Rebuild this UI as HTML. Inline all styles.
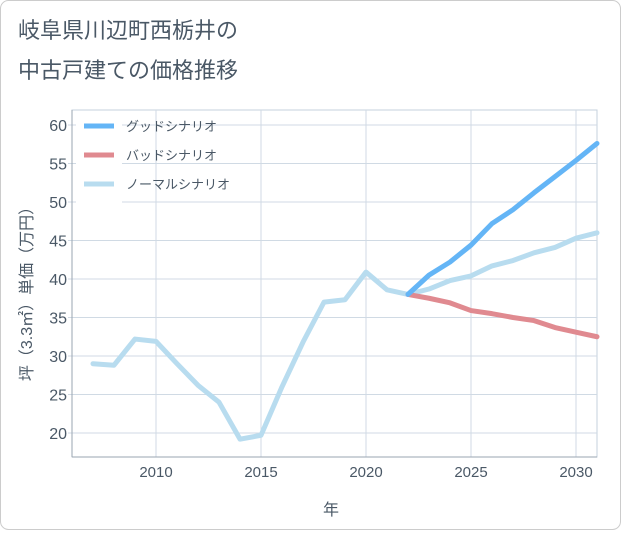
<!DOCTYPE html>
<html><head><meta charset="utf-8"><style>
body{margin:0;background:#fff;}
#wrap{position:relative;width:621px;height:530px;}
svg text{font-family:"Liberation Sans","Noto Sans CJK JP",sans-serif;}
</style></head><body>
<div id="wrap">
<svg id="chart" width="621" height="530">
<rect x="0.5" y="0.5" width="620" height="529" rx="8" fill="#fff" stroke="#ccc"/>
<text x="18" y="38" font-size="22" fill="#4a5866">岐阜県川辺町西栃井の</text>
<text x="18" y="78" font-size="22" fill="#4a5866">中古戸建ての価格推移</text>
<g id="grid"></g><g id="series"></g><g id="legend"></g>
<text x="331" y="515" font-size="16" fill="#4a5866" text-anchor="middle">年</text>
<text transform="translate(32,290) rotate(-90)" font-size="16" fill="#4a5866" text-anchor="middle">坪（3.3㎡）単価（万円）</text>
</svg></div>
<script>
const years=[2007,2008,2009,2010,2011,2012,2013,2014,2015,2016,2017,2018,2019,2020,2021,2022,2023,2024,2025,2026,2027,2028,2029,2030,2031];
const normalVals=[29,28.8,32.2,31.9,29,26.2,24,19.2,19.7,26,31.8,37,37.3,40.9,38.6,38,38.7,39.8,40.4,41.7,42.4,43.4,44.1,45.3,46];
const goodYears=[2022,2023,2024,2025,2026,2027,2028,2029,2030,2031];
const goodVals=[38,40.5,42.2,44.4,47.2,49,51.2,53.3,55.4,57.6];
const badVals=[38,37.5,36.9,35.9,35.5,35,34.6,33.7,33.1,32.5];
const xTicks=[2010,2015,2020,2025,2030];
const yTicks=[20,25,30,35,40,45,50,55,60];
const legendLabels=["グッドシナリオ","バッドシナリオ","ノーマルシナリオ"];
const legendColors=["#64b5f6","#e08a90","#b8dcef"];
const L=72,R=597,T=110,B=457;
const X=y=>156+(y-2010)*21;
const Y=v=>433-(v-20)*7.7;
const NS="http://www.w3.org/2000/svg";
function mk(tag,attrs,parent){const e=document.createElementNS(NS,tag);for(const k in attrs)e.setAttribute(k,attrs[k]);parent.appendChild(e);return e;}
const g=document.getElementById('grid');
mk('rect',{x:L,y:T,width:R-L,height:B-T,fill:'#fff',stroke:'#c5d0dc'},g);
for(const t of xTicks){
 const l=mk('line',{x1:X(t),x2:X(t),y1:T,y2:B,stroke:'#d0dae4'},g);
 
 
 const tx=mk('text',{x:X(t),y:B+20,'font-size':15,fill:'#4a5866','text-anchor':'middle'},g);tx.textContent=t;
 
 
}
for(const t of yTicks){
 const l=mk('line',{x1:L-4,x2:R,y1:Y(t),y2:Y(t),stroke:'#d0dae4'},g);
 
 
 const tx=mk('text',{x:67,y:Y(t)+6,'font-size':16,fill:'#4a5866','text-anchor':'end'},g);tx.textContent=t;
 
 
}
mk('line',{x1:L,x2:L,y1:T,y2:B,stroke:'#9aa6b2'},g);
mk('line',{x1:L,x2:R,y1:B,y2:B,stroke:'#9aa6b2'},g);
const s=document.getElementById('series');
function line(xs,vs,color,name){
 const p=mk('polyline',{points:xs.map((x,i)=>X(x)+','+Y(vs[i])).join(' '),fill:'none',stroke:color,'stroke-width':5,'stroke-linejoin':'round','stroke-linecap':'round'},s);
 
 
}
line(years,normalVals,legendColors[2],'normal-scenario-line');
line(goodYears,badVals,legendColors[1],'bad-scenario-line');
line(goodYears,goodVals,legendColors[0],'good-scenario-line');
const lg=document.getElementById('legend');
mk('rect',{x:76,y:113,width:46,height:90,fill:'#fff'},lg);
legendLabels.forEach((lab,i)=>{
 const y=126+i*29;
 const l=mk('line',{x1:84,x2:114,y1:y,y2:y,stroke:legendColors[i],'stroke-width':5},lg);
 
 
 const t=mk('text',{x:126,y:y+5,'font-size':13,fill:'#4a5866'},lg);t.textContent=lab;
 
 
});
</script>
</body></html>
